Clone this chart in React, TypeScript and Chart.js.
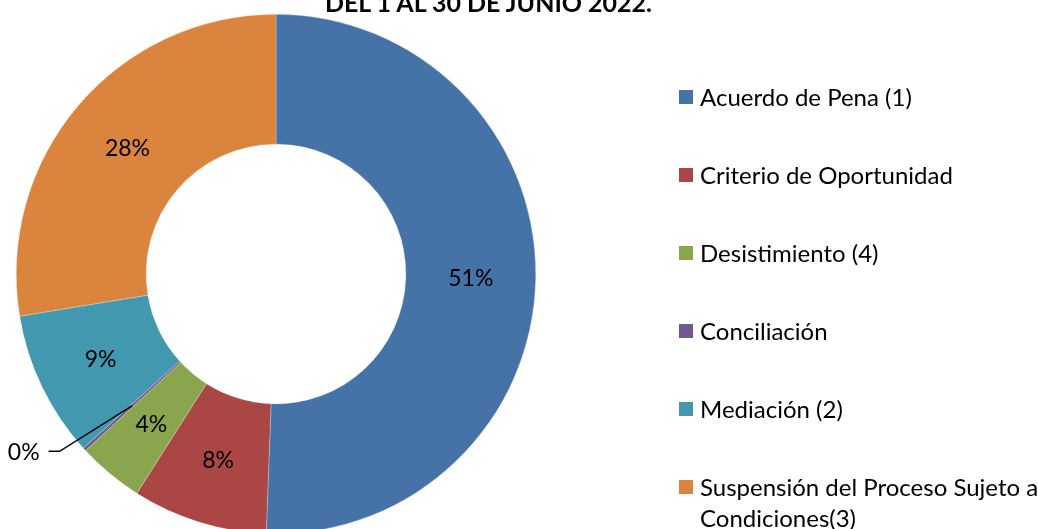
import React, { useEffect, useRef } from "react";
import { Chart, registerables } from "chart.js";

Chart.register(...registerables);

const titleText = "DEL 1 AL 30 DE JUNIO 2022.";
const categories = [
  "Acuerdo de Pena (1)",
  "Criterio de Oportunidad",
  "Desistimiento (4)",
  "Conciliación",
  "Mediación (2)",
  "Suspensión del Proceso Sujeto a Condiciones(3)",
];
const shares = [50.6, 8.4, 4.1, 0.2, 9.1, 27.6];
const colors = ["#4572A7", "#AA4643", "#89A54E", "#71588F", "#4198AF", "#DB843D"];

const FONT = "Lato, 'Open Sans', sans-serif";

const labelPlugin = {
  id: "sliceLabels",
  afterDatasetsDraw(chart: any) {
    const ctx = chart.ctx;
    const meta = chart.getDatasetMeta(0);
    const data = chart.data.datasets[0].data as number[];
    const total = data.reduce((a, b) => a + b, 0);
    ctx.save();
    ctx.font = `23px ${FONT}`;
    ctx.fillStyle = "#000";
    ctx.textBaseline = "middle";
    meta.data.forEach((arc: any, i: number) => {
      const pct = Math.round((data[i] / total) * 100);
      const text = pct + "%";
      const p = arc.tooltipPosition();
      if (data[i] / total < 0.01) {
        const mid = (arc.startAngle + arc.endAngle) / 2 + 0.055;
        const r = arc.outerRadius + 20;
        const ex = arc.x + r * Math.cos(mid);
        const ey = arc.y + r * Math.sin(mid);
        ctx.strokeStyle = "#000";
        ctx.lineWidth = 1.5;
        ctx.beginPath();
        ctx.moveTo(p.x, p.y);
        ctx.lineTo(ex, ey);
        ctx.lineTo(ex - 11, ey);
        ctx.stroke();
        ctx.textAlign = "right";
        ctx.fillText(text, ex - 20, ey + 1);
      } else {
        ctx.textAlign = "center";
        ctx.fillText(text, p.x, p.y + 1);
      }
    });
    ctx.restore();
  },
};

export default function App() {
  const ref = useRef<HTMLCanvasElement>(null);
  useEffect(() => {
    if (!ref.current) return;
    const chart = new Chart(ref.current, {
      type: "doughnut",
      data: {
        labels: categories,
        datasets: [
          {
            data: shares,
            backgroundColor: colors,
            borderColor: "rgba(255,255,255,0.5)",
            borderWidth: 0.5,
          },
        ],
      },
      options: {
        responsive: false,
        animation: false,
        cutout: "50%",
        layout: { padding: { left: 16, top: 14, right: 502, bottom: 6 } },
        plugins: {
          legend: { display: false },
          tooltip: { enabled: false },
          title: { display: false },
        },
      },
      plugins: [labelPlugin],
    });
    return () => chart.destroy();
  }, []);

  return (
    <div
      style={{
        position: "fixed",
        left: 0,
        top: 0,
        width: 1038,
        height: 529,
        overflow: "hidden",
        background: "#fff",
        fontFamily: FONT,
      }}
    >
      <canvas ref={ref} width={1038} height={540} style={{ position: "absolute", left: 0, top: 0 }} />
      <div
        style={{
          position: "absolute",
          left: 0,
          width: 977,
          top: -10,
          textAlign: "center",
          fontWeight: 700,
          fontSize: 25,
          lineHeight: "25px",
          color: "#000",
          whiteSpace: "nowrap",
        }}
      >
        {titleText}
      </div>
      <div style={{ position: "absolute", left: 679, top: 81 }}>
        {categories.map((c, i) => (
          <div
            key={c}
            style={{
              position: "relative",
              height: 78,
              width: 359,
            }}
          >
            <span
              style={{
                position: "absolute",
                left: 0,
                top: 9,
                width: 14,
                height: 14,
                background: colors[i],
              }}
            />
            <div
              style={{
                position: "absolute",
                left: 21,
                top: 0,
                width: 345,
                fontSize: 24,
                lineHeight: "31px",
                color: "#000",
              }}
            >
              {c}
            </div>
          </div>
        ))}
      </div>
    </div>
  );
}
